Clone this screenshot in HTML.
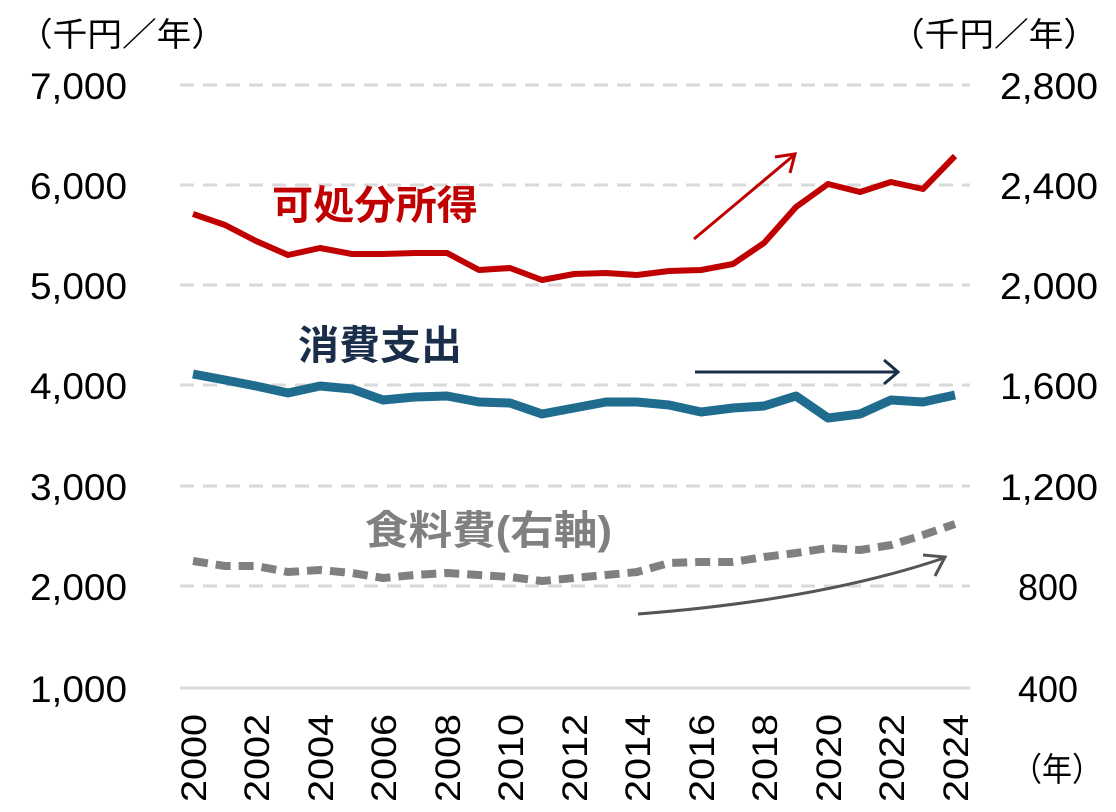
<!DOCTYPE html>
<html><head><meta charset="utf-8"><style>
body{margin:0;background:#fff;}
svg text{font-family:"Liberation Sans","Noto Sans CJK JP",sans-serif;}
</style></head><body>
<svg width="1116" height="807" viewBox="0 0 1116 807" xmlns="http://www.w3.org/2000/svg">
<g stroke="#d9d9d9" stroke-width="3" stroke-dasharray="14,9">
<line x1="180" y1="85" x2="970" y2="85"/><line x1="180" y1="185" x2="970" y2="185"/>
<line x1="180" y1="285" x2="970" y2="285"/><line x1="180" y1="385" x2="970" y2="385"/>
<line x1="180" y1="486" x2="970" y2="486"/><line x1="180" y1="586" x2="970" y2="586"/>
</g>
<line x1="180" y1="688" x2="970" y2="688" stroke="#d9d9d9" stroke-width="3"/>
<g font-size="37" fill="#000">
<text x="30" y="99" textLength="97" lengthAdjust="spacingAndGlyphs">7,000</text>
<text x="30" y="199" textLength="97" lengthAdjust="spacingAndGlyphs">6,000</text>
<text x="30" y="299" textLength="97" lengthAdjust="spacingAndGlyphs">5,000</text>
<text x="30" y="399" textLength="97" lengthAdjust="spacingAndGlyphs">4,000</text>
<text x="30" y="500" textLength="97" lengthAdjust="spacingAndGlyphs">3,000</text>
<text x="30" y="600" textLength="97" lengthAdjust="spacingAndGlyphs">2,000</text>
<text x="30" y="702" textLength="97" lengthAdjust="spacingAndGlyphs">1,000</text>
<text x="1000" y="99" textLength="98" lengthAdjust="spacingAndGlyphs">2,800</text>
<text x="1000" y="199" textLength="98" lengthAdjust="spacingAndGlyphs">2,400</text>
<text x="1000" y="299" textLength="98" lengthAdjust="spacingAndGlyphs">2,000</text>
<text x="1000" y="399" textLength="98" lengthAdjust="spacingAndGlyphs">1,600</text>
<text x="1000" y="500" textLength="98" lengthAdjust="spacingAndGlyphs">1,200</text>
<text x="1018" y="600" textLength="60" lengthAdjust="spacingAndGlyphs">800</text>
<text x="1018" y="702" textLength="60" lengthAdjust="spacingAndGlyphs">400</text>
</g>
<text x="18" y="46" font-size="33" textLength="208" lengthAdjust="spacingAndGlyphs">（千円／年）</text>
<text x="890" y="46" font-size="33" textLength="208" lengthAdjust="spacingAndGlyphs">（千円／年）</text>
<text x="1012" y="781" font-size="33" textLength="90" lengthAdjust="spacingAndGlyphs">（年）</text>
<g font-size="35" fill="#000">
<text transform="translate(206,802) rotate(-90)" textLength="88" lengthAdjust="spacingAndGlyphs">2000</text>
<text transform="translate(269,802) rotate(-90)" textLength="88" lengthAdjust="spacingAndGlyphs">2002</text>
<text transform="translate(333,802) rotate(-90)" textLength="88" lengthAdjust="spacingAndGlyphs">2004</text>
<text transform="translate(396,802) rotate(-90)" textLength="88" lengthAdjust="spacingAndGlyphs">2006</text>
<text transform="translate(460,802) rotate(-90)" textLength="88" lengthAdjust="spacingAndGlyphs">2008</text>
<text transform="translate(523,802) rotate(-90)" textLength="88" lengthAdjust="spacingAndGlyphs">2010</text>
<text transform="translate(587,802) rotate(-90)" textLength="88" lengthAdjust="spacingAndGlyphs">2012</text>
<text transform="translate(650,802) rotate(-90)" textLength="88" lengthAdjust="spacingAndGlyphs">2014</text>
<text transform="translate(714,802) rotate(-90)" textLength="88" lengthAdjust="spacingAndGlyphs">2016</text>
<text transform="translate(777,802) rotate(-90)" textLength="88" lengthAdjust="spacingAndGlyphs">2018</text>
<text transform="translate(841,802) rotate(-90)" textLength="88" lengthAdjust="spacingAndGlyphs">2020</text>
<text transform="translate(904,802) rotate(-90)" textLength="88" lengthAdjust="spacingAndGlyphs">2022</text>
<text transform="translate(968,802) rotate(-90)" textLength="88" lengthAdjust="spacingAndGlyphs">2024</text>
</g>
<polyline fill="none" stroke="#c00000" stroke-width="6" stroke-linejoin="round" points="193,214 225,225 256,241 288,255 320,248 352,254 383,254 415,253 447,253 479,270 510,268 542,280 574,274 606,273 637,275 669,271 701,270 733,264 764,243 796,207 828,184 860,192 891,182 923,189 955,156"/>
<polyline fill="none" stroke="#1f6c8f" stroke-width="9" stroke-linejoin="round" points="193,374 225,380 256,386 288,393 320,386 352,389 383,400 415,397 447,396 479,402 510,403 542,414 574,408 606,402 637,402 669,405 701,412 733,408 764,406 796,396 828,418 860,414 891,400 923,402 955,395"/>
<polyline fill="none" stroke="#808080" stroke-width="8" stroke-dasharray="15,8" stroke-linejoin="round" points="193,561 225,566 256,566 288,572 320,570 352,573 383,578 415,575 447,573 479,575 510,577 542,581 574,578 606,575 637,572 669,563 701,562 733,562 764,557 796,553 828,548 860,550 891,545 923,535 955,524"/>
<g fill="none" stroke-width="3">
<line x1="694" y1="239" x2="793" y2="156" stroke="#c00000"/><polyline points="775,157 795,154 790,173" stroke="#c00000"/>
<line x1="695" y1="372" x2="898" y2="372" stroke="#1a2e4a"/><polyline points="884,360 898,372 884,384" stroke="#1a2e4a"/>
<path d="M638,614 Q820,600 944,558" stroke="#555"/><polyline points="923,555 945,557 935,576" stroke="#555"/>
</g>
<text x="272" y="219" font-size="40" font-weight="bold" fill="#c00000" textLength="206" lengthAdjust="spacingAndGlyphs">可処分所得</text>
<text x="298" y="359" font-size="40" font-weight="bold" fill="#1a2e4a" textLength="164" lengthAdjust="spacingAndGlyphs">消費支出</text>
<text x="365" y="544" font-size="40" font-weight="bold" fill="#808080" textLength="247" lengthAdjust="spacingAndGlyphs">食料費(右軸)</text>
</svg>
</body></html>
